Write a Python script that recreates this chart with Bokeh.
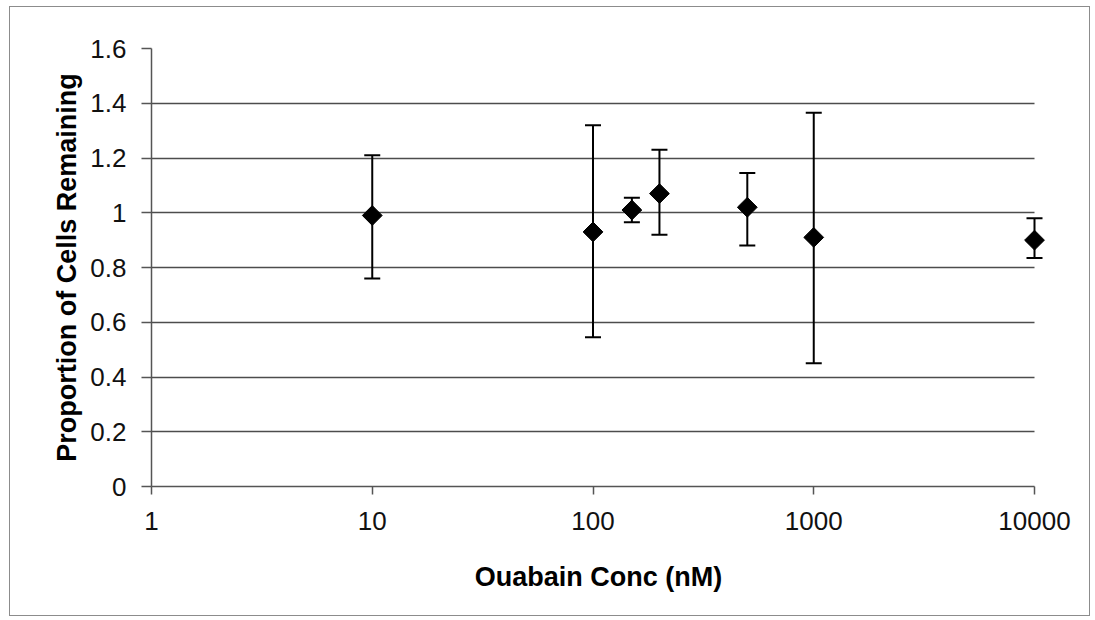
from bokeh.plotting import figure
from bokeh.models import ColumnDataSource, Whisker, TeeHead, FixedTicker, Range1d
from bokeh.embed import file_html
from bokeh.resources import INLINE
import math

# ---- data ----
conc_nM = [10, 100, 150, 200, 500, 1000, 10000]
proportion = [0.99, 0.93, 1.01, 1.07, 1.02, 0.91, 0.90]
err_upper = [1.21, 1.32, 1.055, 1.23, 1.145, 1.365, 0.98]
err_lower = [0.76, 0.545, 0.965, 0.92, 0.88, 0.45, 0.835]

x_ticks = [1, 10, 100, 1000, 10000]
x_tick_labels = ["1", "10", "100", "1000", "10000"]
y_ticks = [0, 0.2, 0.4, 0.6, 0.8, 1.0, 1.2, 1.4, 1.6]
y_tick_labels = ["0", "0.2", "0.4", "0.6", "0.8", "1", "1.2", "1.4", "1.6"]

x_title = "Ouabain Conc (nM)"
y_title = "Proportion of Cells Remaining"

FONT = "Liberation Sans"

# frame is extended a few pixels past the last decade so the last marker is not clipped;
# the axis line and grid lines are bounded to the tick range.
PX_PER_DECADE = 220.75
EXTRA_PX = 11
x_end = x_ticks[-1] * 10 ** (EXTRA_PX / PX_PER_DECADE)

p = figure(
    width=1081, height=610,
    x_axis_type="log",
    x_range=Range1d(x_ticks[0], x_end),
    y_range=Range1d(y_ticks[0], y_ticks[-1]),
    output_backend="svg", toolbar_location=None,
    min_border_left=141, min_border_right=57 - EXTRA_PX,
    min_border_top=41, min_border_bottom=131,
)
p.styles = {"border": "1px solid #8c8c8c", "margin-left": "9px", "margin-top": "6px"}
p.outline_line_color = None
p.background_fill_color = "white"
p.border_fill_color = "white"

src = ColumnDataSource(dict(x=conc_nM, y=proportion, upper=err_upper, lower=err_lower))

# axes
p.xaxis.ticker = FixedTicker(ticks=x_ticks)
p.xaxis.major_label_overrides = {t: l for t, l in zip(x_ticks, x_tick_labels)}
p.xaxis.bounds = (x_ticks[0], x_ticks[-1])
p.yaxis.ticker = FixedTicker(ticks=y_ticks)
p.yaxis.major_label_overrides = {t: l for t, l in zip(y_ticks, y_tick_labels)}

for ax in (p.xaxis[0], p.yaxis[0]):
    ax.axis_line_color = "#555555"
    ax.axis_line_width = 1.5
    ax.major_tick_line_color = "#555555"
    ax.major_tick_line_width = 1.5
    ax.major_tick_in = 0
    ax.minor_tick_line_color = None
    ax.major_label_text_font = FONT
    ax.major_label_text_font_size = "26px"
    ax.major_label_text_color = "#111111"
    ax.axis_label_text_font = FONT
    ax.axis_label_text_font_size = "27px"
    ax.axis_label_text_font_style = "bold"
    ax.axis_label_text_color = "#000000"

p.xaxis.major_tick_out = 8
p.xaxis.major_label_standoff = 17
p.xaxis.axis_label = x_title
p.xaxis.axis_label_standoff = 29

p.yaxis.major_tick_out = 10
p.yaxis.major_label_standoff = 15
p.yaxis.axis_label = y_title
p.yaxis.axis_label_standoff = 5

# grid
p.xgrid.grid_line_color = None
p.ygrid.ticker = FixedTicker(ticks=[t for t in y_ticks if 0 < t < y_ticks[-1]])
p.ygrid.cross_bounds = (x_ticks[0], x_ticks[-1])
p.ygrid.grid_line_color = "#4d4d4d"
p.ygrid.grid_line_width = 1.5

# error bars
w = Whisker(source=src, base="x", upper="upper", lower="lower", dimension="height",
            line_color="black", line_width=2,
            upper_head=TeeHead(size=16, line_width=2, line_color="black"),
            lower_head=TeeHead(size=16, line_width=2, line_color="black"))
p.add_layout(w)

# markers
p.scatter("x", "y", source=src, marker="square", size=14, angle=math.pi / 4,
          fill_color="black", line_color="black", line_width=1)

open("out.html", "w").write(file_html(p, INLINE))
